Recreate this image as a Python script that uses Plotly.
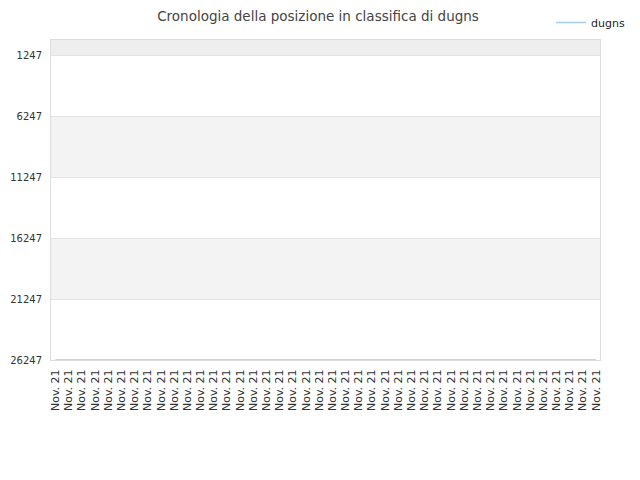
import plotly.graph_objects as go

# ---- data ----
x_labels = ["Nov. 21"] * 42
x_index = list(range(len(x_labels)))
rank_values = [26247] * 42
y_ticks = [1247, 6247, 11247, 16247, 21247, 26247]
y_range = [1, 26247]
series_name = "dugns"
title_text = "Cronologia della posizione in classifica di dugns"

FONT = "DejaVu Sans"
LINE_COLOR = "#a7c9ec"

# the page body has an 8px margin, so the figure is drawn 8px in from the corner
W, H = 632, 472

fig = go.Figure()
fig.add_trace(go.Scatter(
    x=x_index, y=rank_values, mode="lines", name=series_name,
    line=dict(color=LINE_COLOR, width=1.5), hoverinfo="skip",
))

# alternating background bands, built from the tick values
band_edges = [y_range[0]] + y_ticks
shapes = []
for i in range(len(band_edges) - 1):
    if i % 2 == 0:
        shapes.append(dict(
            type="rect", xref="paper", yref="y", x0=0, x1=1,
            y0=band_edges[i], y1=band_edges[i + 1],
            fillcolor="#eeeeee" if i == 0 else "#f3f3f3",
            line=dict(width=0), layer="below",
        ))

fig.update_layout(
    width=W, height=H,
    margin=dict(l=43, r=40, t=32, b=120, autoexpand=False),
    paper_bgcolor="white", plot_bgcolor="white",
    font=dict(family=FONT, size=11, color="#333333"),
    title=dict(text=title_text, x=310 / W, xanchor="center", y=1,
               yref="container", yanchor="top", pad=dict(t=4, b=0),
               font=dict(family=FONT, size=13.5, color="#444444")),
    showlegend=True,
    legend=dict(xref="container", yref="container", x=543 / W, xanchor="left",
                y=1.05, yanchor="top", tracegroupgap=0,
                font=dict(family=FONT, size=11, color="#222222"),
                bgcolor="rgba(0,0,0,0)", itemwidth=30),
    shapes=shapes,
    xaxis=dict(
        range=[-0.34, 41.30], tickmode="array", tickvals=x_index,
        ticktext=x_labels, tickangle=-90, showgrid=False, zeroline=False,
        showline=True, mirror=True, linecolor="#dddddd", linewidth=1,
        ticks="", ticklabelstandoff=4, automargin=False,
        tickfont=dict(family=FONT, size=11, color="#333333"),
    ),
    yaxis=dict(
        range=[y_range[1], y_range[0]], tickmode="array", tickvals=y_ticks,
        ticktext=[str(v) for v in y_ticks], showgrid=True,
        gridcolor="#e3e3e3", gridwidth=1, zeroline=False,
        showline=True, mirror=True, linecolor="#dddddd", linewidth=1,
        ticks="", ticklabelstandoff=6, automargin=False,
        tickfont=dict(family=FONT, size=10, color="#333333"),
    ),
)

fig.write_html("out.html")
